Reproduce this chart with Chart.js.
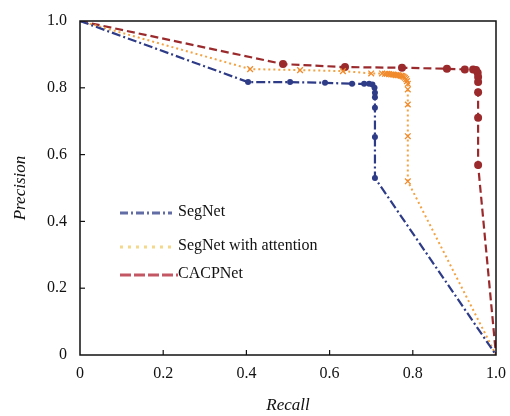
<!DOCTYPE html>
<html>
<head>
<meta charset="utf-8">
<script src="https://cdn.jsdelivr.net/npm/chart.js@4"></script>
<style>
  html, body { margin: 0; padding: 0; background: #fff; }
  #wrap { width: 510px; height: 416px; }
</style>
</head>
<body>
<div id="wrap"><canvas id="chart" width="510" height="416"></canvas></div>
<script>
// values (recall on x, precision on y)
const segRecall = [0, 0.404, 0.505, 0.589, 0.654, 0.683, 0.695, 0.703, 0.708, 0.709, 0.709, 0.709, 0.709, 0.709, 1.0];
const segPrec   = [1.0, 0.817, 0.817, 0.815, 0.812, 0.812, 0.812, 0.810, 0.800, 0.785, 0.772, 0.740, 0.653, 0.530, 0];

const attRecall = [0, 0.409, 0.529, 0.632, 0.700, 0.726, 0.733, 0.738, 0.743, 0.748, 0.752, 0.756, 0.760, 0.764, 0.768, 0.772, 0.775, 0.778, 0.781, 0.784, 0.786, 0.788, 0.788, 0.788, 0.788, 0.788, 1.0];
const attPrec   = [1.0, 0.856, 0.853, 0.850, 0.843, 0.843, 0.842, 0.842, 0.841, 0.840, 0.840, 0.839, 0.838, 0.838, 0.837, 0.836, 0.835, 0.833, 0.830, 0.826, 0.820, 0.812, 0.795, 0.750, 0.655, 0.520, 0];

const cacRecall = [0, 0.488, 0.637, 0.774, 0.882, 0.925, 0.945, 0.952, 0.956, 0.957, 0.957, 0.957, 0.957, 0.957, 1.0];
const cacPrec   = [1.0, 0.871, 0.862, 0.860, 0.857, 0.855, 0.855, 0.853, 0.845, 0.832, 0.817, 0.787, 0.710, 0.569, 0];

const axisTicks = [0, 0.2, 0.4, 0.6, 0.8, 1.0];
const seriesNames = ['SegNet', 'SegNet with attention', 'CACPNet'];

const FONT = '"Liberation Serif", "Times New Roman", serif';

function toPoints(xs, ys) {
  const pts = [];
  for (let i = 0; i < xs.length; i++) {
    pts.push({ x: xs[i], y: ys[i] });
  }
  return pts;
}

// no marker on the two end points
function endless(r) {
  return (ctx) => {
    const n = ctx.dataset.data.length;
    return (ctx.dataIndex === 0 || ctx.dataIndex === n - 1) ? 0 : r;
  };
}

// frame, inward ticks and the legend inside the plot
const framePlugin = {
  id: 'frame',
  afterDraw(chart) {
    const { ctx, chartArea: a, scales } = chart;
    ctx.save();
    ctx.strokeStyle = '#111';
    ctx.lineWidth = 1.5;
    ctx.strokeRect(a.left, a.top, a.right - a.left, a.bottom - a.top);

    ctx.lineWidth = 1.2;
    axisTicks.forEach((v) => {
      if (v === 0 || v === 1) return;
      const px = scales.x.getPixelForValue(v);
      ctx.beginPath();
      ctx.moveTo(px, a.bottom);
      ctx.lineTo(px, a.bottom - 5);
      ctx.stroke();
      const py = scales.y.getPixelForValue(v);
      ctx.beginPath();
      ctx.moveTo(a.left, py);
      ctx.lineTo(a.left + 5, py);
      ctx.stroke();
    });

    // legend
    const rows = [
      { y: 213, color: 'rgba(46, 59, 135, 0.75)', dash: [8, 3, 2, 3], w: 52 },
      { y: 247, color: 'rgba(240, 200, 90, 0.7)', dash: [3, 5], w: 52 },
      { y: 275, color: 'rgba(180, 45, 60, 0.8)', dash: [11, 3], w: 58 }
    ];
    rows.forEach((r, i) => {
      ctx.strokeStyle = r.color;
      ctx.lineWidth = 3;
      ctx.setLineDash(r.dash);
      ctx.beginPath();
      ctx.moveTo(120, r.y);
      ctx.lineTo(120 + r.w, r.y);
      ctx.stroke();
      ctx.setLineDash([]);
      ctx.fillStyle = '#111';
      ctx.font = '16px ' + FONT;
      ctx.textBaseline = 'middle';
      ctx.fillText(seriesNames[i], 178, r.y - 1);
    });
    ctx.restore();
  }
};

const ctx = document.getElementById('chart').getContext('2d');
const chart = new Chart(ctx, {
  type: 'scatter',
  data: {
    datasets: [
      {
        label: seriesNames[0],
        data: toPoints(segRecall, segPrec),
        showLine: true,
        borderColor: '#2e3b87',
        backgroundColor: '#2e3b87',
        borderWidth: 2.2,
        borderDash: [9, 3, 2, 3],
        pointStyle: 'circle',
        pointRadius: endless(3),
        pointBorderWidth: 0
      },
      {
        label: seriesNames[1],
        data: toPoints(attRecall, attPrec),
        showLine: true,
        borderColor: '#f3a343',
        backgroundColor: '#f08a2c',
        borderWidth: 2,
        borderDash: [2, 3],
        pointStyle: 'crossRot',
        pointRadius: endless(4),
        pointBorderColor: '#f08a2c',
        pointBorderWidth: 1.3
      },
      {
        label: seriesNames[2],
        data: toPoints(cacRecall, cacPrec),
        showLine: true,
        borderColor: '#9b2a2c',
        backgroundColor: '#9b2a2c',
        borderWidth: 2.2,
        borderDash: [8, 4],
        pointStyle: 'circle',
        pointRadius: endless(4),
        pointBorderWidth: 0
      }
    ]
  },
  options: {
    responsive: false,
    animation: false,
    layout: { padding: { top: 21, right: 14, left: 0, bottom: 0 }, autoPadding: false },
    plugins: { legend: { display: false }, tooltip: { enabled: false } },
    scales: {
      x: {
        type: 'linear',
        min: 0,
        max: 1,
        afterFit: (s) => { s.height = 61; s.paddingLeft = 0; s.paddingRight = 0; },
        afterBuildTicks: (s) => { s.ticks = axisTicks.map((v) => ({ value: v })); },
        grid: { display: false, drawTicks: false },
        border: { display: false },
        ticks: {
          padding: 9,
          color: '#111',
          font: { family: FONT, size: 16 },
          callback: (v) => (v === 0 ? '0' : v.toFixed(1))
        },
        title: {
          display: true,
          text: 'Recall',
          color: '#111',
          font: { family: FONT, size: 17, style: 'italic' },
          padding: { top: 4, bottom: 0 }
        }
      },
      y: {
        type: 'linear',
        min: 0,
        max: 1,
        afterFit: (s) => { s.width = 80; s.paddingTop = 0; s.paddingBottom = 0; },
        afterBuildTicks: (s) => { s.ticks = axisTicks.map((v) => ({ value: v })); },
        grid: { display: false, drawTicks: false },
        border: { display: false },
        ticks: {
          padding: 13,
          color: '#111',
          font: { family: FONT, size: 16 },
          callback: (v) => (v === 0 ? '0' : v.toFixed(1))
        },
        title: {
          display: true,
          text: 'Precision',
          color: '#111',
          font: { family: FONT, size: 17, style: 'italic' },
          padding: { top: 10, bottom: 0 }
        }
      }
    }
  },
  plugins: [framePlugin]
});
</script>
</body>
</html>
